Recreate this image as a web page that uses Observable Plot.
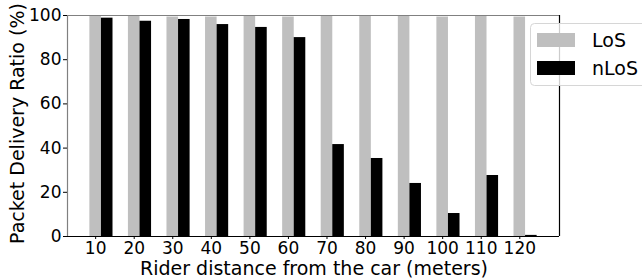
<!DOCTYPE html>
<html>
<head>
<meta charset="utf-8">
<script src="https://cdn.jsdelivr.net/npm/d3@7"></script>
<script src="https://cdn.jsdelivr.net/npm/@observablehq/plot@0.6"></script>
<style>
  html, body { margin: 0; padding: 0; background: white; }
  svg { display: block; }
</style>
</head>
<body>
<div id="chart"></div>
<script>
const distances = [10, 20, 30, 40, 50, 60, 70, 80, 90, 100, 110, 120];
const losValues = [100, 100, 99.3, 99.3, 100, 99.3, 100, 100, 100, 99.3, 100, 99.3];
const nlosValues = [98.8, 97.4, 98.2, 95.9, 94.6, 90.0, 41.6, 35.3, 24.0, 10.4, 27.6, 0.5];
const seriesNames = ["LoS", "nLoS"];
const seriesColors = ["#bfbfbf", "#000000"];
const yTicks = [0, 20, 40, 60, 80, 100];
const xLabel = "Rider distance from the car (meters)";
const yLabel = "Packet Delivery Ratio (%)";

const barW = 3;
const data = distances.flatMap((d, i) => [
  {d, series: seriesNames[0], v: losValues[i], x1: d - barW / 2, x2: d + barW / 2},
  {d, series: seriesNames[1], v: nlosValues[i], x1: d + barW / 2, x2: d + 1.5 * barW}
]);

const xMin = 2.7, xMax = 130.3;
const W = 642, H = 278, mL = 67, mT = 15, mR = 83, mB = 42;
const FONT = "'DejaVu Sans'";

const chart = Plot.plot({
  width: W, height: H,
  marginLeft: mL, marginTop: mT, marginRight: mR, marginBottom: mB,
  style: {fontFamily: FONT, fontSize: "17px", color: "black", background: "white"},
  x: {type: "linear", domain: [xMin, xMax]},
  y: {domain: [0, 100]},
  color: {domain: seriesNames, range: seriesColors},
  marks: [
    Plot.rectY(data, {x1: "x1", x2: "x2", y1: 0, y2: "v", fill: "series"}),
    Plot.ruleY([100], {stroke: "#808080", strokeWidth: 1.2}),
    Plot.ruleX([xMin], {stroke: "#808080", strokeWidth: 1.2}),
    Plot.ruleY([0], {stroke: "black", strokeWidth: 1.2}),
    Plot.ruleX([xMax], {stroke: "black", strokeWidth: 1.2}),
    Plot.axisY({ticks: yTicks, tickSize: 4, tickPadding: 2, label: null, tickFormat: d => String(d)}),
    Plot.axisX({ticks: distances, tickSize: 3, tickPadding: 2.5, label: null, tickFormat: d => String(d)})
  ]
});

document.getElementById("chart").appendChild(chart);

const svg = d3.select(chart);
// tick labels: force size inline
svg.selectAll("text").style("font-family", FONT).style("font-size", "17px");

function label(sel) {
  return sel.style("font-family", FONT).style("font-size", "19px").attr("fill", "black");
}
// axis titles
label(svg.append("text"))
  .attr("x", 314)
  .attr("y", 274.5)
  .attr("text-anchor", "middle")
  .text(xLabel);
label(svg.append("text"))
  .attr("transform", `translate(23.5, 123.5) rotate(-90)`)
  .attr("text-anchor", "middle")
  .text(yLabel);

// legend
const lg = svg.append("g");
lg.append("rect")
  .attr("x", 530.5).attr("y", 23.5).attr("width", 125).attr("height", 62)
  .attr("rx", 4)
  .attr("fill", "white").attr("fill-opacity", 0.8)
  .attr("stroke", "#d6d6d6");
seriesNames.forEach((name, i) => {
  const cy = 40 + i * 28;
  lg.append("rect")
    .attr("x", 537).attr("y", cy - 7).attr("width", 38).attr("height", 14)
    .attr("fill", seriesColors[i]);
  label(lg.append("text"))
    .attr("x", 592).attr("y", cy).attr("dy", "0.36em")
    .attr("text-anchor", "start")
    .text(name);
});
</script>
</body>
</html>
